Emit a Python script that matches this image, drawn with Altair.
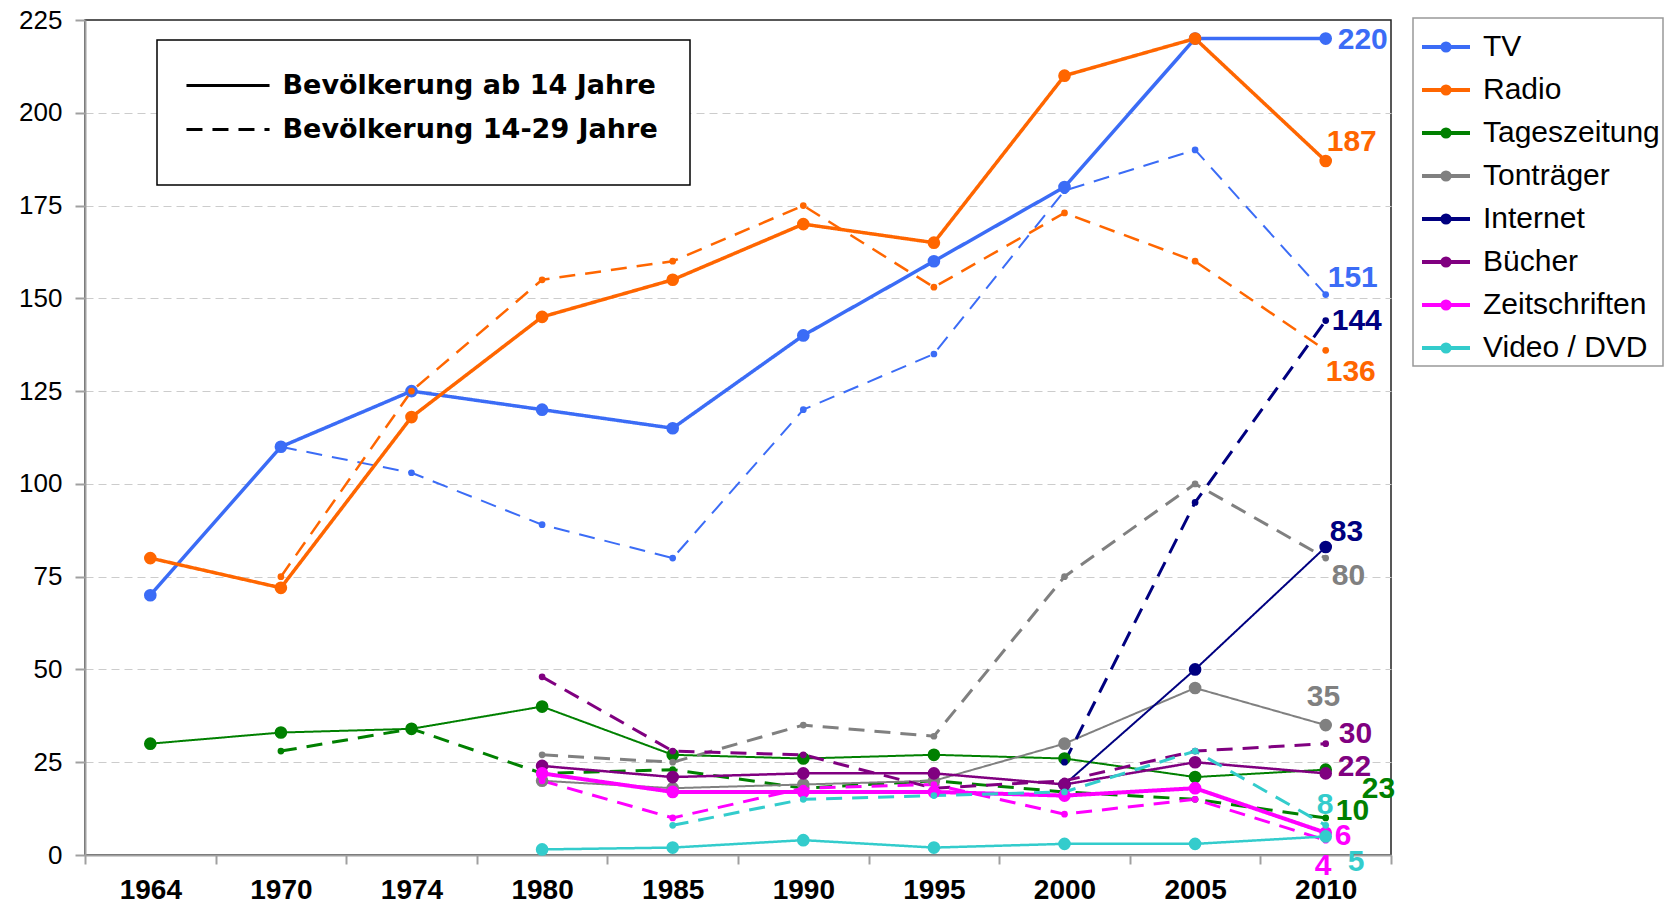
import altair as alt
import pandas as pd

N = None
years = ["1964", "1970", "1974", "1980", "1985", "1990", "1995", "2000", "2005", "2010"]

series = ["TV", "Radio", "Tageszeitung", "Tonträger", "Internet", "Bücher", "Zeitschriften", "Video / DVD"]
groups = ["Bevölkerung ab 14 Jahre", "Bevölkerung 14-29 Jahre"]

# values (minutes per day)
tv_ab14 = [70, 110, 125, 120, 115, 140, 160, 180, 220, 220]
tv_1429 = [N, 110, 103, 89, 80, 120, 135, 179, 190, 151]
radio_ab14 = [80, 72, 118, 145, 155, 170, 165, 210, 220, 187]
radio_1429 = [N, 75, 125, 155, 160, 175, 153, 173, 160, 136]
zeitung_ab14 = [30, 33, 34, 40, 27, 26, 27, 26, 21, 23]
zeitung_1429 = [N, 28, 34, 22, 23, 18, 20, 17, 15, 10]
ton_ab14 = [N, N, N, 20, 18, 19, 20, 30, 45, 35]
ton_1429 = [N, N, N, 27, 25, 35, 32, 75, 100, 80]
internet_ab14 = [N, N, N, N, N, N, N, 19, 50, 83]
internet_1429 = [N, N, N, N, N, N, N, 25, 95, 144]
buecher_ab14 = [N, N, N, 24, 21, 22, 22, 19, 25, 22]
buecher_1429 = [N, N, N, 48, 28, 27, 18, 20, 28, 30]
zeitschr_ab14 = [N, N, N, 22, 17, 17, 17, 16, 18, 6]
zeitschr_1429 = [N, N, N, 20, 10, 18, 19, 11, 15, 4]
video_ab14 = [N, N, N, 1.5, 2, 4, 2, 3, 3, 5]
video_1429 = [N, N, N, N, 8, 15, 16, 17, 28, 8]

values = {
    "TV": (tv_ab14, tv_1429),
    "Radio": (radio_ab14, radio_1429),
    "Tageszeitung": (zeitung_ab14, zeitung_1429),
    "Tonträger": (ton_ab14, ton_1429),
    "Internet": (internet_ab14, internet_1429),
    "Bücher": (buecher_ab14, buecher_1429),
    "Zeitschriften": (zeitschr_ab14, zeitschr_1429),
    "Video / DVD": (video_ab14, video_1429),
}

# ---- styles (kept apart from the data) ----
colors = ["#3b6cf6", "#ff6600", "#008000", "#808080", "#000080", "#800080", "#ff00ff", "#33cccc"]
color_of = dict(zip(series, colors))
line_width = {
    ("TV", 0): 3.5, ("TV", 1): 2,
    ("Radio", 0): 3.5, ("Radio", 1): 2.5,
    ("Tageszeitung", 0): 2, ("Tageszeitung", 1): 3,
    ("Tonträger", 0): 2, ("Tonträger", 1): 3,
    ("Internet", 0): 2, ("Internet", 1): 3,
    ("Bücher", 0): 2.5, ("Bücher", 1): 3,
    ("Zeitschriften", 0): 4, ("Zeitschriften", 1): 3,
    ("Video / DVD", 0): 2.5, ("Video / DVD", 1): 3,
}
dot_size = {0: 160, 1: 45}
# label offsets (px) for the end-of-line value labels
label_offset = {
    ("TV", 0): (12, 1), ("TV", 1): (2, -17),
    ("Radio", 0): (1, -19), ("Radio", 1): (0, 22),
    ("Internet", 0): (4, -15), ("Internet", 1): (6, 0),
    ("Tonträger", 0): (-19, -28), ("Tonträger", 1): (6, 18),
    ("Bücher", 0): (12, -6), ("Bücher", 1): (13, -10),
    ("Tageszeitung", 0): (36, 19), ("Tageszeitung", 1): (10, -7),
    ("Zeitschriften", 0): (9, 3), ("Zeitschriften", 1): (-11, 26),
    ("Video / DVD", 0): (22, 26), ("Video / DVD", 1): (-9, -20),
}

rows = []
for s in series:
    for gi, g in enumerate(groups):
        for yr, v in zip(years, values[s][gi]):
            if v is not None:
                rows.append({"Jahr": yr, "Medium": s, "Gruppe": g, "Wert": v,
                             "key": f"{s}|{gi}"})
df = pd.DataFrame(rows)

keys = [f"{s}|{gi}" for s in series for gi in range(2)]
widths = [line_width[(s, gi)] for s in series for gi in range(2)]
sizes = [dot_size[gi] for s in series for gi in range(2)]

# legend symbol: a short line with a dot in its middle
LEGEND_PATH = ("M-1,0H1"
               "M0.15,0A0.15,0.15,0,1,1,-0.15,0A0.15,0.15,0,1,1,0.15,0")
# long flat stroke for the line-style legend
DASH_PATH = "M-5,0H5"

x_enc = alt.X("Jahr:N", sort=years,
              scale=alt.Scale(type="band", domain=years, paddingInner=0, paddingOuter=0),
              axis=alt.Axis(title=None, labelAngle=0, tickBand="extent", grid=False,
                            labelFont="Liberation Sans", labelFontSize=28, labelFontWeight="bold",
                            labelColor="black", labelPadding=12, tickSize=9, tickWidth=2,
                            tickColor="#a0a0a0", domainColor="#a0a0a0", domainWidth=2))
y_enc = alt.Y("Wert:Q", scale=alt.Scale(domain=[0, 225], nice=False, zero=True),
              axis=alt.Axis(title=None, values=list(range(0, 226, 25)), grid=True,
                            gridColor={"condition": {"test": "datum.value >= 225", "value": "transparent"},
                                       "value": "#cccccc"},
                            gridDash=[8, 5], gridWidth=1,
                            labelFont="Liberation Sans", labelFontSize=26, labelColor="black",
                            labelPadding=13, tickSize=10, tickWidth=2, tickColor="#a0a0a0",
                            domainColor="#a0a0a0", domainWidth=2))

color_scale = alt.Scale(domain=series, range=colors)
color_legend = alt.Legend(
    title=None, orient="none", legendX=1328, legendY=-2,
    symbolType=LEGEND_PATH, symbolSize=2304, symbolStrokeWidth=4, symbolOffset=4,
    labelFont="Liberation Sans", labelFontSize=30, labelColor="black", labelLimit=400,
    labelOffset=11, rowPadding=2, padding=3, strokeColor="#999999", fillColor="white",
)

dash_legend = alt.Legend(
    title=" ", titleOrient="bottom", titleFontSize=6, titlePadding=4,
    orient="none", legendX=72, legendY=20,
    symbolType=DASH_PATH, symbolSize=276, symbolStrokeWidth=3, symbolStrokeColor="black",
    symbolOffset=25.5,
    labelFont="DejaVu Sans", labelFontSize=27, labelFontWeight="bold", labelColor="black",
    labelLimit=700, labelOffset=41, rowPadding=16, padding=32,
    strokeColor="black", fillColor="white",
)

lines = alt.Chart(df).mark_line().encode(
    x=x_enc, y=y_enc,
    color=alt.Color("Medium:N", scale=color_scale, legend=color_legend),
    strokeDash=alt.StrokeDash("Gruppe:N", scale=alt.Scale(domain=groups, range=[[1, 0], [16, 10]]),
                              legend=dash_legend),
    strokeWidth=alt.StrokeWidth("key:N", scale=alt.Scale(type="ordinal", domain=keys, range=widths),
                                legend=None),
    detail="key:N",
)

points = alt.Chart(df).mark_point(filled=True, opacity=1).encode(
    x=x_enc, y=y_enc,
    color=alt.Color("Medium:N", scale=color_scale, legend=color_legend),
    size=alt.Size("key:N", scale=alt.Scale(type="ordinal", domain=keys, range=sizes), legend=None),
)

end_df = df[df["Jahr"] == "2010"].copy()
end_df["Label"] = end_df["Wert"].map(lambda v: f"{v:g}")

labels = []
for s in series:
    for gi in range(2):
        k = f"{s}|{gi}"
        dx, dy = label_offset[(s, gi)]
        labels.append(
            alt.Chart(end_df).transform_filter(alt.datum.key == k).mark_text(
                align="left", baseline="middle", dx=dx, dy=dy,
                font="Liberation Sans", fontSize=30, fontWeight="bold", color=color_of[s],
            ).encode(x=x_enc, y=y_enc, text="Label:N")
        )

chart = alt.layer(lines, points, *labels).properties(
    width=1306, height=835,
    autosize=alt.AutoSizeParams(type="none"),
    padding={"left": 77, "top": 12, "right": 277, "bottom": 49},
).configure_view(stroke="#222222", strokeWidth=1.5).configure_legend(strokeWidth=1.5)

chart.save("out.html", embed_options={"renderer": "svg", "actions": False})
